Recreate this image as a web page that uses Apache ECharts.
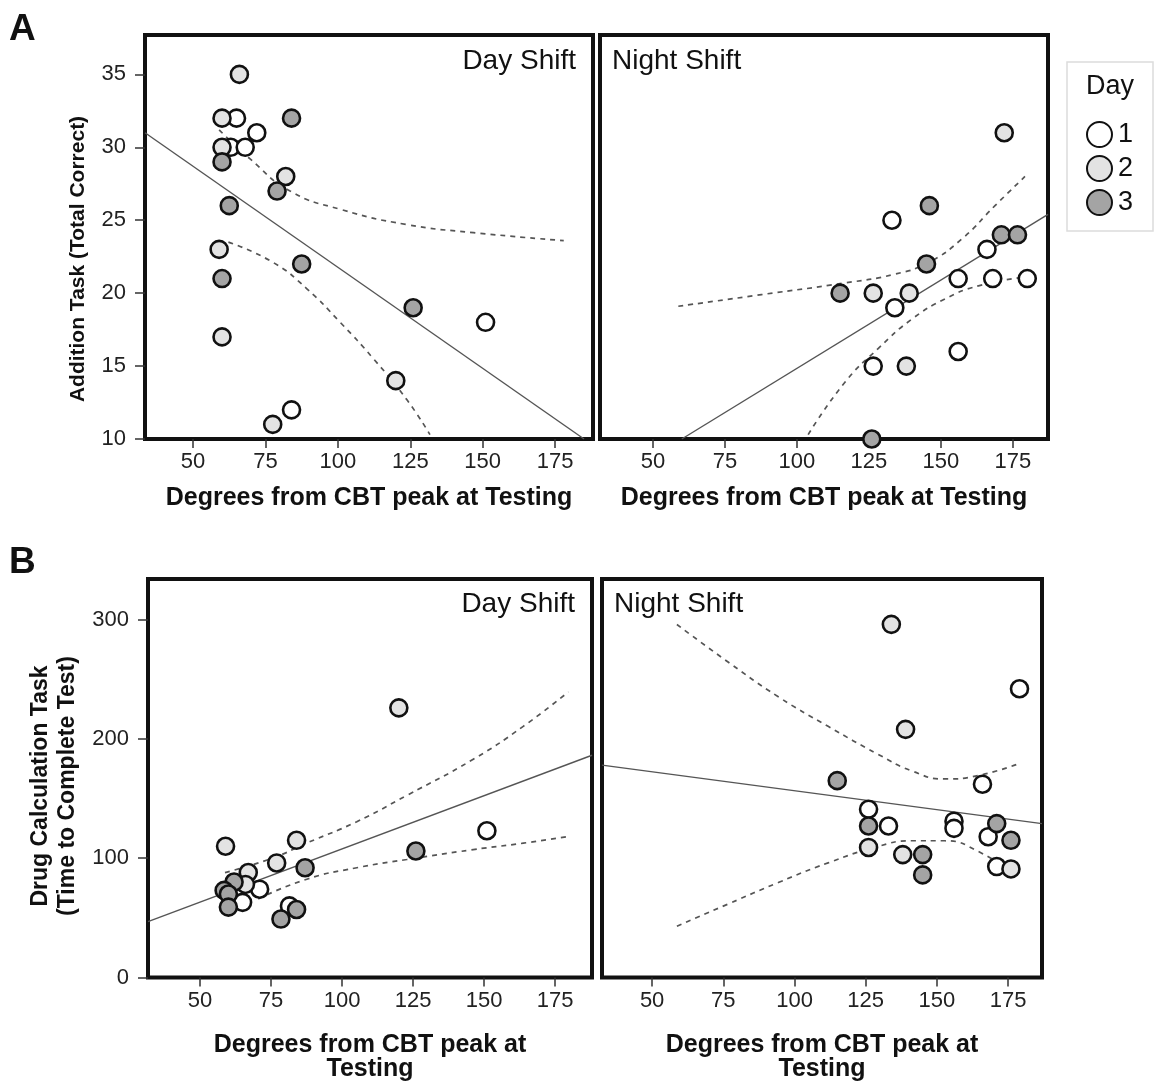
<!DOCTYPE html>
<html>
<head>
<meta charset="utf-8">
<script src="https://cdn.jsdelivr.net/npm/echarts@6/dist/echarts.min.js"></script>
<style>
  html, body { margin: 0; padding: 0; background: #fff; }
  #chart { width: 1154px; height: 1083px; }
</style>
</head>
<body>
<div id="chart"></div>
<script>
const xTicks = [50, 75, 100, 125, 150, 175];
const addTicks = [10, 15, 20, 25, 30, 35];
const drugTicks = [0, 100, 200, 300];
const dayNames = ["1", "2", "3"];

// A: addition task, day shift
const addDay1 = [[65, 32], [72, 31], [63, 30], [68, 30], [151, 18], [84, 12]];
const addDay2 = [[66, 35], [60, 32], [60, 30], [82, 28], [59, 23], [60, 17], [120, 14], [77.5, 11]];
const addDay3 = [[84, 32], [60, 29], [79, 27], [62.5, 26], [87.5, 22], [60, 21], [126, 19]];
const addDayFit = [[33.4, 31.0], [185, 10]];
const addDayUpper = [[59, 31.2], [69.7, 29.2], [83.5, 27], [100.8, 25.75], [123.8, 24.7], [146.8, 24.15], [178, 23.6]];
const addDayLower = [[62.2, 23.5], [77.7, 22.1], [89.3, 20.3], [100.8, 18], [112.3, 15.5], [123.8, 12.7], [131.8, 10.3]];

// A: addition task, night shift
const addNight1 = [[133, 25], [166, 23], [156, 21], [168, 21], [180, 21], [134, 19], [156, 16], [126.5, 15]];
const addNight2 = [[172, 31], [126.5, 20], [139, 20], [138, 15]];
const addNight3 = [[146, 26], [171, 24], [176.6, 24], [145, 22], [115, 20], [126, 10]];
const addNightFit = [[60, 10], [187.2, 25.4]];
const addNightUpper = [[58.8, 19.1], [87.7, 19.9], [116.7, 20.7], [134, 21.3], [145.6, 22.1], [157.2, 23.7], [168.8, 26], [179.2, 28]];
const addNightLower = [[103.9, 10.3], [116.7, 13.9], [128.2, 16.2], [139.8, 18.2], [151.4, 19.6], [163, 20.5], [179.2, 21.1]];

// B: drug calculation task, day shift
const drugDay1 = [[151, 123], [71, 74], [65, 63], [81.5, 60]];
const drugDay2 = [[120, 226], [59, 110], [84, 115], [77, 96], [67, 88], [66, 78]];
const drugDay3 = [[126, 106], [87, 92], [62, 80], [58.5, 73], [60, 70], [60, 59], [84, 57], [78.5, 49]];
const drugDayFit = [[31.7, 46.8], [188, 186.3]];
const drugDayUpper = [[58.8, 87.9], [75.8, 100.3], [87.6, 112.7], [105.2, 130.6], [122.8, 152.6], [146.2, 182.9], [163.8, 210.5], [179.7, 239.4]];
const drugDayLower = [[70.5, 65.9], [87.6, 82.4], [105.2, 92], [122.8, 98.9], [146.2, 107.2], [163.8, 112.6], [179.7, 118.2]];

// B: drug calculation task, night shift
const drugNight1 = [[179, 242], [166, 162], [126, 141], [156, 131], [156, 125], [133, 127], [168, 118], [171, 93]];
const drugNight2 = [[134, 296], [139, 208], [126, 109], [138, 103], [176, 91]];
const drugNight3 = [[115, 165], [171, 129], [126, 127], [176, 115], [145, 103], [145, 86]];
const drugNightFit = [[32.4, 178], [186.9, 129]];
const drugNightUpper = [[58.7, 295.9], [76.8, 264.2], [94.3, 235.3], [111.8, 210.5], [129.4, 187], [141, 173.3], [152.7, 166.4], [164.4, 169.2], [179.2, 179.6]];
const drugNightLower = [[58.7, 43], [76.8, 61.7], [94.3, 79.6], [111.8, 96.1], [129.4, 109.9], [141, 114.6], [152.7, 114.6], [164.4, 105.8], [178.6, 84.3]];

const FONT = "Liberation Sans, Arial, sans-serif";
const dayColors = ["#ffffff", "#e3e3e3", "#a4a4a4"];

const chart = echarts.init(document.getElementById("chart"));

const grids = [
  { left: 145, top: 35, width: 448, height: 404 },
  { left: 600, top: 35, width: 448, height: 404 },
  { left: 148, top: 579, width: 444, height: 404 },
  { left: 602, top: 579, width: 440, height: 404 }
].map(g => Object.assign(g, { show: true, borderColor: "#111", borderWidth: 4, backgroundColor: "#fff" }));

const xRanges = [[33.4, 188.1], [31.6, 187.2], [31.7, 188], [32.4, 186.9]];

const makeX = function(i) {
  const twoLines = i >= 2;
  return {
    gridIndex: i,
    type: "value",
    min: xRanges[i][0],
    max: xRanges[i][1],
    axisLine: { show: false },
    splitLine: { show: false },
    axisTick: { show: true, length: 9, customValues: xTicks, lineStyle: { color: "#333", width: 1.5 } },
    axisLabel: { customValues: xTicks, margin: 12, fontSize: 22, color: "#222", fontFamily: FONT },
    name: twoLines ? "Degrees from CBT peak at\nTesting" : "Degrees from CBT peak at Testing",
    nameLocation: "middle",
    nameGap: twoLines ? 56 : 47,
    nameTextStyle: { fontSize: 25, fontWeight: "bold", color: "#111", fontFamily: FONT, lineHeight: 24 }
  };
};

const makeY = function(i) {
  const isAdd = i < 2;
  const ticks = isAdd ? addTicks : drugTicks;
  const showTicks = i % 2 === 0;
  return {
    gridIndex: i,
    type: "value",
    min: isAdd ? 10 : 0,
    max: isAdd ? 37.7 : 334,
    axisLine: { show: false },
    splitLine: { show: false },
    axisTick: { show: showTicks, length: 10, customValues: ticks, lineStyle: { color: "#333", width: 1.5 } },
    axisLabel: { show: showTicks, customValues: ticks, margin: 19, fontSize: 22, color: "#222", fontFamily: FONT }
  };
};

const panels = [
  [addDay1, addDay2, addDay3, addDayFit, addDayUpper, addDayLower],
  [addNight1, addNight2, addNight3, addNightFit, addNightUpper, addNightLower],
  [drugDay1, drugDay2, drugDay3, drugDayFit, drugDayUpper, drugDayLower],
  [drugNight1, drugNight2, drugNight3, drugNightFit, drugNightUpper, drugNightLower]
];

const series = [];
panels.forEach(function(p, i) {
  series.push({
    type: "line", xAxisIndex: i, yAxisIndex: i, data: p[3], symbol: "none", z: 2,
    lineStyle: { color: "#555", width: 1.4 }, silent: true
  });
  [p[4], p[5]].forEach(function(band) {
    series.push({
      type: "line", xAxisIndex: i, yAxisIndex: i, data: band, symbol: "none", smooth: true, z: 2,
      lineStyle: { color: "#555", width: 1.7, type: [5, 5] }, silent: true
    });
  });
  for (let d = 0; d < 3; d++) {
    series.push({
      name: dayNames[d], type: "scatter", xAxisIndex: i, yAxisIndex: i, data: p[d],
      symbol: "circle", symbolSize: 17, z: 3,
      itemStyle: { color: dayColors[d], borderColor: "#111", borderWidth: 2.6, opacity: 1 }
    });
  }
});

const txt = function(x, y, text, size, opts) {
  return {
    type: "text", x: x, y: y, z: 10,
    style: Object.assign({ text: text, fontSize: size, fontFamily: FONT, fill: "#111", textAlign: "left", textVerticalAlign: "middle" }, opts || {})
  };
};

chart.setOption({
  animation: false,
  backgroundColor: "#fff",
  grid: grids,
  xAxis: [0, 1, 2, 3].map(makeX),
  yAxis: [0, 1, 2, 3].map(makeY),
  legend: {
    data: dayNames,
    orient: "vertical",
    left: 1081,
    top: 116,
    itemWidth: 25,
    itemHeight: 25,
    itemGap: 7,
    icon: "circle",
    selectedMode: false,
    textStyle: { fontSize: 27, color: "#111", fontFamily: FONT, padding: [0, 0, 0, 1] }
  },
  graphic: [
    { type: "rect", shape: { x: 1067, y: 62, width: 86, height: 169 }, style: { fill: "#fff", stroke: "#dcdcdc", lineWidth: 1.5 }, z: 0 },
    txt(1110, 87, "Day", 27, { textAlign: "center" }),
    txt(9, 30, "A", 37, { fontWeight: "bold" }),
    txt(9, 563, "B", 37, { fontWeight: "bold" }),
    txt(576, 61, "Day Shift", 28, { textAlign: "right" }),
    txt(612, 61, "Night Shift", 28),
    txt(575, 604, "Day Shift", 28, { textAlign: "right" }),
    txt(614, 604, "Night Shift", 28),
    {
      type: "text", x: 78, y: 259, rotation: Math.PI / 2, z: 10,
      style: { text: "Addition Task (Total Correct)", fontSize: 21, fontWeight: "bold", fontFamily: FONT, fill: "#111", textAlign: "center", textVerticalAlign: "middle" }
    },
    {
      type: "text", x: 54, y: 786, rotation: Math.PI / 2, z: 10,
      style: { text: "Drug Calculation Task\n(Time to Complete Test)", fontSize: 23, lineHeight: 27, fontWeight: "bold", fontFamily: FONT, fill: "#111", textAlign: "center", textVerticalAlign: "middle" }
    }
  ],
  series: series
});
</script>
</body>
</html>
